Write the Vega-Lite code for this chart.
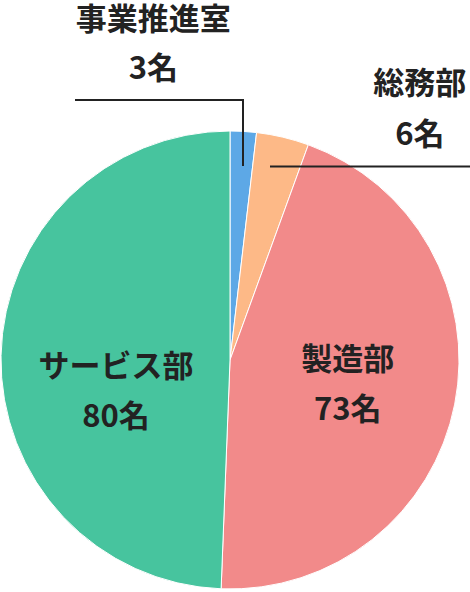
{
  "$schema": "https://vega.github.io/schema/vega-lite/v6.json",
  "description": "Staff by department pie chart",
  "width": 460,
  "height": 458,
  "autosize": "none",
  "padding": {"left": 0, "top": 131, "right": 10, "bottom": 3},
  "background": "white",
  "data": {
    "values": [
      {"dept": "事業推進室", "n": 3, "rank": 1},
      {"dept": "総務部", "n": 6, "rank": 2},
      {"dept": "製造部", "n": 73, "rank": 3},
      {"dept": "サービス部", "n": 80, "rank": 4}
    ]
  },
  "transform": [{"calculate": "datum.n + '名'", "as": "count_label"}],
  "layer": [
    {
      "mark": {"type": "arc", "stroke": "white", "strokeWidth": 1},
      "encoding": {
        "theta": {"field": "n", "type": "quantitative", "stack": true},
        "order": {"field": "rank", "type": "quantitative"},
        "color": {
          "field": "dept",
          "type": "nominal",
          "legend": null,
          "scale": {
            "domain": ["事業推進室", "総務部", "製造部", "サービス部"],
            "range": ["#5DA8E6", "#FDB987", "#F28A8A", "#47C49E"]
          }
        }
      }
    },
    {
      "mark": {"type": "text", "radius": 120, "dy": -22, "font": "Noto Sans CJK JP", "fontWeight": "bold", "fontSize": 31, "color": "#222"},
      "encoding": {
        "theta": {"field": "n", "type": "quantitative", "stack": true},
        "order": {"field": "rank", "type": "quantitative"},
        "detail": {"field": "dept"},
        "text": {"condition": {"test": "datum.dept === '製造部'", "field": "dept"}, "value": ""}
      }
    },
    {
      "mark": {"type": "text", "radius": 120, "dy": 28, "font": "Noto Sans CJK JP", "fontWeight": "bold", "fontSize": 31, "color": "#222"},
      "encoding": {
        "theta": {"field": "n", "type": "quantitative", "stack": true},
        "order": {"field": "rank", "type": "quantitative"},
        "detail": {"field": "dept"},
        "text": {"condition": {"test": "datum.dept === '製造部'", "field": "count_label"}, "value": ""}
      }
    },
    {
      "mark": {"type": "text", "radius": 114, "dy": 10, "font": "Noto Sans CJK JP", "fontWeight": "bold", "fontSize": 31, "color": "#222"},
      "encoding": {
        "theta": {"field": "n", "type": "quantitative", "stack": true},
        "order": {"field": "rank", "type": "quantitative"},
        "detail": {"field": "dept"},
        "text": {"condition": {"test": "datum.dept === 'サービス部'", "field": "dept"}, "value": ""}
      }
    },
    {
      "mark": {"type": "text", "radius": 114, "dy": 60, "font": "Noto Sans CJK JP", "fontWeight": "bold", "fontSize": 31, "color": "#222"},
      "encoding": {
        "theta": {"field": "n", "type": "quantitative", "stack": true},
        "order": {"field": "rank", "type": "quantitative"},
        "detail": {"field": "dept"},
        "text": {"condition": {"test": "datum.dept === 'サービス部'", "field": "count_label"}, "value": ""}
      }
    },
    {
      "mark": {"type": "text", "radius": 229, "dx": -90, "dy": -110, "font": "Noto Sans CJK JP", "fontWeight": "bold", "fontSize": 31, "color": "#222"},
      "encoding": {
        "theta": {"field": "n", "type": "quantitative", "stack": true},
        "order": {"field": "rank", "type": "quantitative"},
        "detail": {"field": "dept"},
        "text": {"condition": {"test": "datum.dept === '事業推進室'", "field": "dept"}, "value": ""}
      }
    },
    {
      "mark": {"type": "text", "radius": 229, "dx": -90, "dy": -61, "font": "Noto Sans CJK JP", "fontWeight": "bold", "fontSize": 31, "color": "#222"},
      "encoding": {
        "theta": {"field": "n", "type": "quantitative", "stack": true},
        "order": {"field": "rank", "type": "quantitative"},
        "detail": {"field": "dept"},
        "text": {"condition": {"test": "datum.dept === '事業推進室'", "field": "count_label"}, "value": ""}
      }
    },
    {
      "mark": {"type": "text", "radius": 229, "dx": 137, "dy": -52, "font": "Noto Sans CJK JP", "fontWeight": "bold", "fontSize": 31, "color": "#222"},
      "encoding": {
        "theta": {"field": "n", "type": "quantitative", "stack": true},
        "order": {"field": "rank", "type": "quantitative"},
        "detail": {"field": "dept"},
        "text": {"condition": {"test": "datum.dept === '総務部'", "field": "dept"}, "value": ""}
      }
    },
    {
      "mark": {"type": "text", "radius": 229, "dx": 137, "dy": -1, "font": "Noto Sans CJK JP", "fontWeight": "bold", "fontSize": 31, "color": "#222"},
      "encoding": {
        "theta": {"field": "n", "type": "quantitative", "stack": true},
        "order": {"field": "rank", "type": "quantitative"},
        "detail": {"field": "dept"},
        "text": {"condition": {"test": "datum.dept === '総務部'", "field": "count_label"}, "value": ""}
      }
    },
    {
      "data": {"values": [{}]},
      "mark": {"type": "rule", "color": "#222", "strokeWidth": 2},
      "encoding": {
        "x": {"value": 243},
        "y": {"value": 35},
        "x2": {"value": 243},
        "y2": {"value": -31}
      }
    },
    {
      "data": {"values": [{}]},
      "mark": {"type": "rule", "color": "#222", "strokeWidth": 2},
      "encoding": {
        "x": {"value": 75},
        "y": {"value": -31},
        "x2": {"value": 244},
        "y2": {"value": -31}
      }
    },
    {
      "data": {"values": [{}]},
      "mark": {"type": "rule", "color": "#222", "strokeWidth": 2},
      "encoding": {
        "x": {"value": 270},
        "y": {"value": 35.5},
        "x2": {"value": 470},
        "y2": {"value": 35.5}
      }
    }
  ],
  "config": {"view": {"stroke": null}}
}
